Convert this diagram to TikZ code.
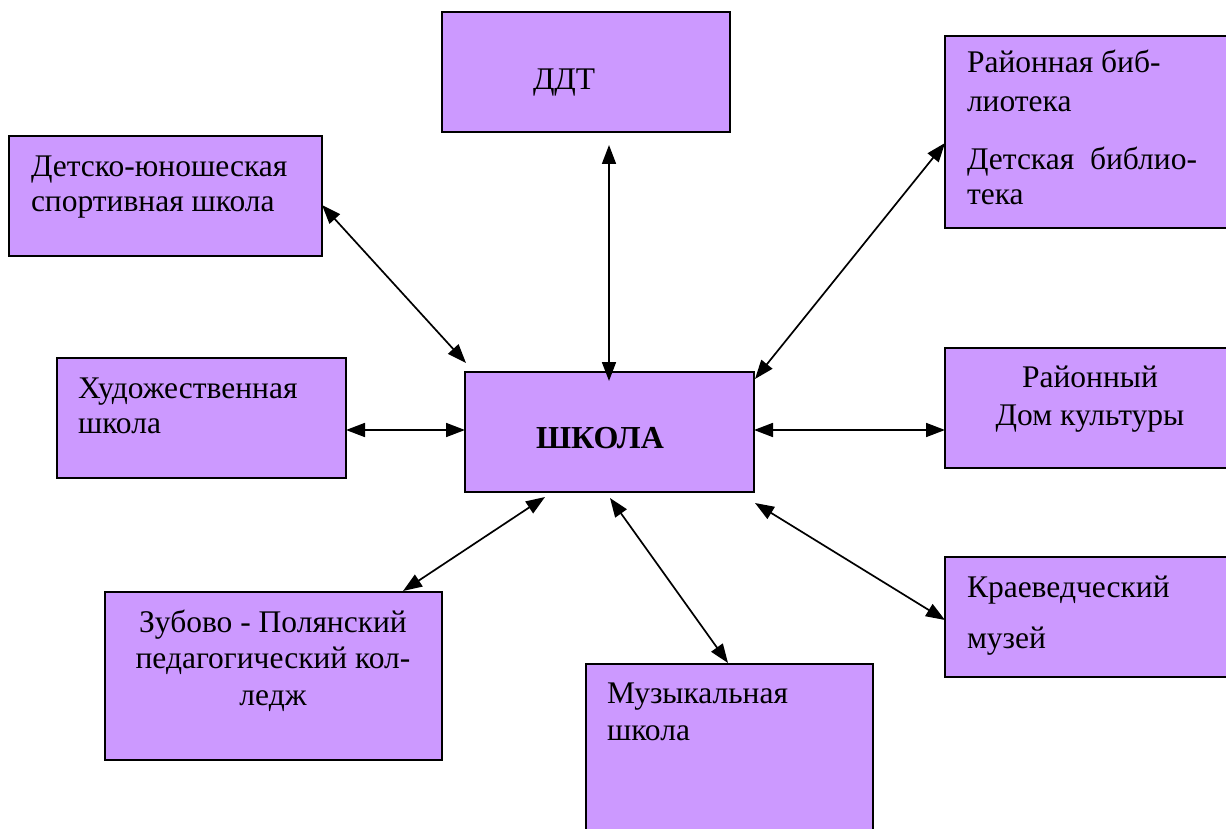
\documentclass[tikz,border=0pt]{standalone}
\usepackage{fontspec}
\setmainfont{Liberation Serif}
\usetikzlibrary{arrows.meta}
\definecolor{boxfill}{HTML}{CC99FF}
\tikzset{
  box/.style={draw=black, fill=boxfill, line width=1.8pt, rectangle, inner sep=0pt, outer sep=0pt, anchor=north west},
  lbl/.style={inner sep=0pt, outer sep=0pt, font=\fontsize{31.5}{36}\selectfont},
  biarrow/.style={line width=1.7pt, {Triangle[length=19pt,width=14pt]}-{Triangle[length=19pt,width=14pt]}}
}
\begin{document}
\begin{tikzpicture}[x=1pt,y=-1pt]
\useasboundingbox (0,0) rectangle (1226,829);
\fill[white] (0,0) rectangle (1226,829);
% boxes
\node[box, minimum width=288, minimum height=120] (ddt) at (442,12) {};
\node[box, minimum width=313, minimum height=120] (dussh) at (9,136) {};
\node[box, minimum width=290, minimum height=192] (lib) at (945,36) {};
\node[box, minimum width=289, minimum height=120] (hud) at (57,358) {};
\node[box, minimum width=289, minimum height=120] (shkola) at (465,372) {};
\node[box, minimum width=290, minimum height=120] (dk) at (945,348) {};
\node[box, minimum width=337, minimum height=168] (kol) at (105,592) {};
\node[box, minimum width=290, minimum height=120] (muz) at (945,557) {};
\node[box, minimum width=287, minimum height=180] (mus) at (586,664) {};
% texts
\node[lbl, anchor=base west] (tddt) at (533,90) {ДДТ};
\node[lbl, anchor=base west] (td1) at (31,177) {Детско-юношеская};
\node[lbl, anchor=base west] (td2) at (31,212) {спортивная школа};
\node[lbl, anchor=base west] (tl1) at (967,73) {Районная биб-};
\node[lbl, anchor=base west] (tl2) at (967,112) {лиотека};
\node[lbl, anchor=base west] (tl3) at (967,170) {Детская\ \ библио-};
\node[lbl, anchor=base west] (tl4) at (967,205) {тека};
\node[lbl, anchor=base west] (th1) at (78,398) {Художественная};
\node[lbl, anchor=base west] (th2) at (78,433) {школа};
\node[lbl, anchor=base, font=\fontsize{32}{36}\selectfont\bfseries] (tsh) at (600,448) {ШКОЛА};
\node[lbl, anchor=base] (tk1) at (1090,387) {Районный};
\node[lbl, anchor=base] (tk2) at (1090,425) {Дом культуры};
\node[lbl, anchor=base] (tc1) at (273,632) {Зубово - Полянский};
\node[lbl, anchor=base] (tc2) at (273,668) {педагогический кол-};
\node[lbl, anchor=base] (tc3) at (273,705) {ледж};
\node[lbl, anchor=base west] (tm1) at (967,597) {Краеведческий};
\node[lbl, anchor=base west] (tm2) at (967,648) {музей};
\node[lbl, anchor=base west] (ts1) at (607,703) {Музыкальная};
\node[lbl, anchor=base west] (ts2) at (607,740) {школа};
% connector end points
\coordinate (a1) at (609,145);
\coordinate (a2) at (609,381);
\coordinate (b1) at (322,205);
\coordinate (b2) at (466,363);
\coordinate (c1) at (945,143);
\coordinate (c2) at (755,379);
\coordinate (d1) at (346,430);
\coordinate (d2) at (465,430);
\coordinate (e1) at (754,430);
\coordinate (e2) at (945,430);
\coordinate (f1) at (755,503);
\coordinate (f2) at (945,620);
\coordinate (g1) at (610,498);
\coordinate (g2) at (728,663);
\coordinate (h1) at (545,497);
\coordinate (h2) at (403,591);
% connectors
\draw[biarrow] (a1) -- (a2);
\draw[biarrow] (b1) -- (b2);
\draw[biarrow] (c1) -- (c2);
\draw[biarrow] (d1) -- (d2);
\draw[biarrow] (e1) -- (e2);
\draw[biarrow] (f1) -- (f2);
\draw[biarrow] (g1) -- (g2);
\draw[biarrow] (h1) -- (h2);
\end{tikzpicture}
\end{document}
